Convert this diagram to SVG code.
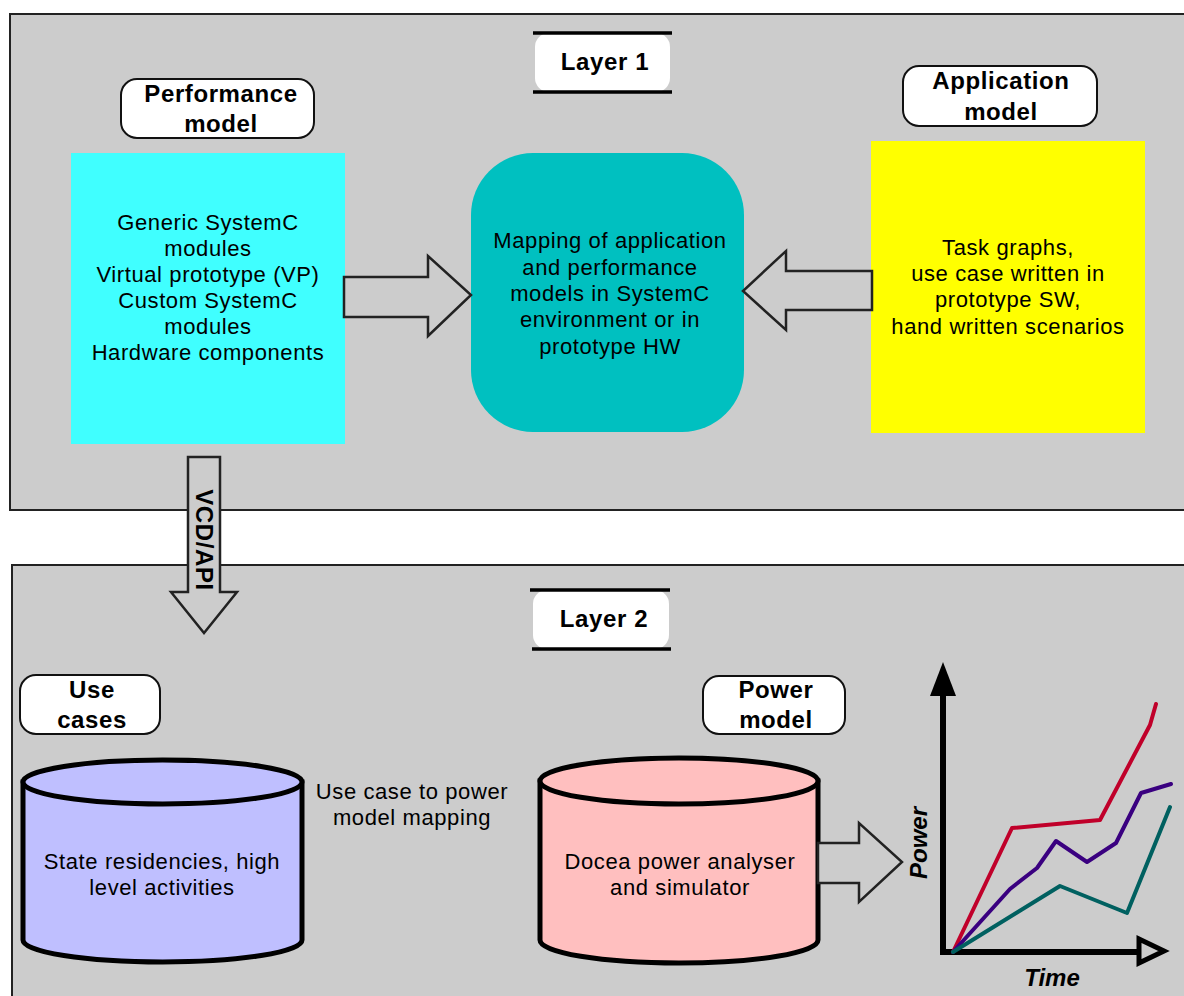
<svg xmlns="http://www.w3.org/2000/svg" width="1184" height="996" viewBox="0 0 1184 996">
<style>
.panel{fill:#cccccc;stroke:#222;stroke-width:2}
.lbl{fill:#fff;stroke:#111;stroke-width:2}
.b{font-family:"Liberation Sans",Arial,sans-serif;font-weight:bold;font-size:24px;letter-spacing:0.6px;fill:#000;text-anchor:middle}
.t{font-family:"Liberation Sans",Arial,sans-serif;font-size:22px;letter-spacing:0.6px;fill:#000;text-anchor:middle}
.arr{fill:#cccccc;stroke:#222;stroke-width:2.5;stroke-linejoin:miter}
.cyl{stroke:#000;stroke-width:5}
.ln{fill:none;stroke-width:4;stroke-linejoin:round;stroke-linecap:round}
.bi{font-family:"Liberation Sans",Arial,sans-serif;font-weight:bold;font-style:italic;font-size:24px;fill:#000;text-anchor:middle}
</style>
<rect width="1184" height="996" fill="#fff"/>
<g id="layer1">
<rect class="panel" x="10" y="14" width="1200" height="496"/>
</g>
<g id="layer2">
<rect class="panel" x="12" y="565" width="1200" height="460"/>
</g>
<g id="layer1-label">
<rect x="535" y="33" width="135" height="59" rx="14" fill="#fff"/>
<line x1="533" y1="33" x2="672" y2="33" stroke="#000" stroke-width="3.5"/>
<line x1="533" y1="92" x2="672" y2="92" stroke="#000" stroke-width="3.5"/>
<text class="b" x="605" y="70">Layer 1</text>
</g>
<g id="layer2-label">
<rect x="533" y="590" width="136" height="59" rx="14" fill="#fff"/>
<line x1="530" y1="590" x2="670" y2="590" stroke="#000" stroke-width="3.5"/>
<line x1="532" y1="649" x2="671" y2="649" stroke="#000" stroke-width="3.5"/>
<text class="b" x="604" y="627">Layer 2</text>
</g>
<g id="performance-label">
<rect class="lbl" x="121" y="79" width="193" height="59" rx="16"/>
<text class="b" x="221" y="102">Performance</text>
<text class="b" x="221" y="132">model</text>
</g>
<g id="performance-model">
<rect x="71" y="153" width="274" height="291" fill="#40ffff"/>
<text class="t" x="208" y="230">Generic SystemC</text>
<text class="t" x="208" y="256">modules</text>
<text class="t" x="208" y="282">Virtual prototype (VP)</text>
<text class="t" x="208" y="308">Custom SystemC</text>
<text class="t" x="208" y="334">modules</text>
<text class="t" x="208" y="360">Hardware components</text>
</g>
<g id="mapping">
<rect x="471" y="153" width="273" height="279" rx="62" fill="#00c0c0"/>
<text class="t" x="610" y="248">Mapping of application</text>
<text class="t" x="610" y="275">and performance</text>
<text class="t" x="610" y="301">models in SystemC</text>
<text class="t" x="610" y="327">environment or in</text>
<text class="t" x="610" y="354">prototype HW</text>
</g>
<g id="application-label">
<rect class="lbl" x="903" y="66" width="194" height="60" rx="16"/>
<text class="b" x="1001" y="89">Application</text>
<text class="b" x="1001" y="120">model</text>
</g>
<g id="application-model">
<rect x="871" y="141" width="274" height="292" fill="#ffff00"/>
<text class="t" x="1008" y="255">Task graphs,</text>
<text class="t" x="1008" y="281">use case written in</text>
<text class="t" x="1008" y="307">prototype SW,</text>
<text class="t" x="1008" y="334">hand written scenarios</text>
</g>
<g id="usecases-label">
<rect class="lbl" x="20" y="675" width="140" height="59" rx="16"/>
<text class="b" x="92" y="698">Use</text>
<text class="b" x="92" y="728">cases</text>
</g>
<g id="usecases">
<path class="cyl" fill="#bfbfff" d="M23,782 L23,940 A139.5,22 0 0 0 302,940 L302,782 Z"/>
<ellipse class="cyl" fill="#bfbfff" cx="162.5" cy="782" rx="139.5" ry="22"/>
<text class="t" x="162" y="869">State residencies, high</text>
<text class="t" x="162" y="895">level activities</text>
</g>
<g id="mapping-note">
<text class="t" x="412" y="799">Use case to power</text>
<text class="t" x="412" y="825">model mapping</text>
</g>
<g id="power-label">
<rect class="lbl" x="703" y="676" width="142" height="58" rx="16"/>
<text class="b" x="776" y="698">Power</text>
<text class="b" x="776" y="728">model</text>
</g>
<g id="power-model">
<path class="cyl" fill="#ffbfbf" d="M540,781 L540,940 A139,23 0 0 0 818,940 L818,781 Z"/>
<ellipse class="cyl" fill="#ffbfbf" cx="679" cy="781" rx="139" ry="23"/>
<text class="t" x="680" y="869">Docea power analyser</text>
<text class="t" x="680" y="895">and simulator</text>
</g>
<g id="connectors">
<polygon class="arr" points="344,277 428,277 428,256 471,295 428,336 428,317 344,317"/>
<polygon class="arr" points="872,271 786,271 786,251 743,291 786,330 786,310 872,310"/>
<polygon class="arr" points="188,457 220,457 220,592 237,592 204,633 171,592 188,592"/>
<text class="b" transform="translate(196,540) rotate(90)" x="0" y="0">VCD/API</text>
<polygon class="arr" points="818,843 859,843 859,823 902,862 859,902 859,883 818,883"/>
</g>
<g id="chart">
<line x1="943" y1="690" x2="943" y2="953" stroke="#000" stroke-width="6"/>
<polygon points="943,662 956,696 930,696" fill="#000"/>
<line x1="940" y1="952" x2="1140" y2="952" stroke="#000" stroke-width="6"/>
<polygon points="1139,939 1164,951 1139,963" fill="none" stroke="#000" stroke-width="5" stroke-linejoin="miter"/>
<polyline class="ln" stroke="#c0002a" points="953,952 1012,828 1100,820 1150,725 1156,704"/>
<polyline class="ln" stroke="#3a0080" points="953,952 1010,889 1037,868 1056,841 1087,862 1116,843 1141,793 1171,784"/>
<polyline class="ln" stroke="#006060" points="953,952 1060,886 1127,913 1170,807"/>
<text class="bi" transform="translate(927,843) rotate(-90)">Power</text>
<text class="bi" x="1052" y="986">Time</text>
</g>
</svg>
